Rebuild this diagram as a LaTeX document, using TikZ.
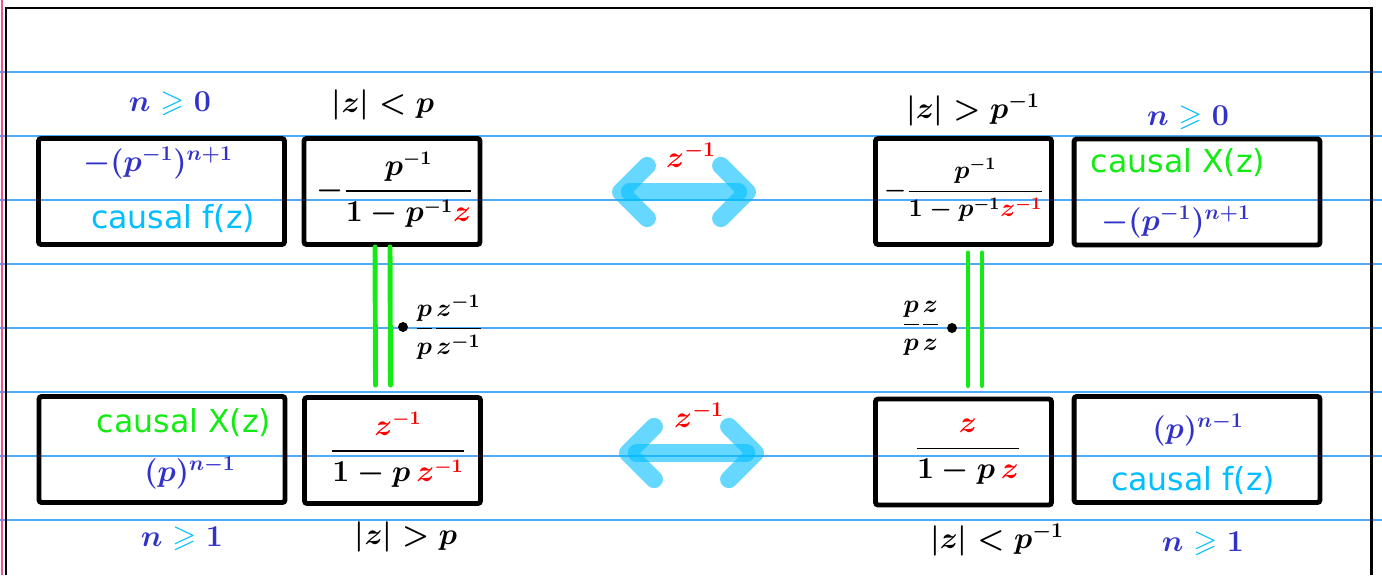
\documentclass[tikz,border=0pt]{standalone}
\usepackage{amsmath,amssymb}
\usepackage{fontspec}
\setsansfont{DejaVu Sans}
\usetikzlibrary{positioning,arrows.meta,calc}
\definecolor{ruleblue}{RGB}{80,170,250}
\definecolor{inkblue}{RGB}{50,50,200}
\definecolor{inkcyan}{RGB}{0,190,255}
\definecolor{inkgreen}{RGB}{20,235,20}
\definecolor{inkred}{RGB}{255,0,0}
\definecolor{marginpink}{RGB}{240,80,150}
\newcommand{\hgeq}{\mathrel{\textcolor{inkcyan}{\geqslant}}}
\newcommand{\rz}{{\color{inkred}z}}
\newcommand{\rzi}{{\color{inkred}z^{-1}}}
\tikzset{
  ruled/.style={ruleblue,line width=0.8pt},
  sheet/.style={line width=1.7pt},
  tbox/.style={draw,line width=2.8pt,rounded corners=1.5pt,
    minimum height=2.12cm,inner sep=0pt},
  narrowbox/.style={tbox,minimum width=3.52cm},
  widebox/.style={tbox,minimum width=4.92cm},
  hand/.style={font=\fontsize{17.5}{20}\selectfont\boldmath,inner sep=1pt},
  fracbox/.style={font=\fontsize{16}{19}\selectfont\boldmath,inner sep=1pt},
  captxt/.style={font=\sffamily\fontsize{18}{22}\selectfont,inner sep=1pt},
  eqbar/.style={inkgreen,line width=2.8pt,line cap=round},
  swaparrow/.style={inkcyan,opacity=.6,line width=10pt,line cap=round,
    {Straight Barb[round,length=15pt,width=30pt]}-{Straight Barb[round,length=15pt,width=30pt]}},
  mulpt/.style={circle,fill,inner sep=2pt},
  smallfrac/.style={font=\fontsize{15}{18}\selectfont\boldmath,inner sep=0.5pt},
}
\begin{document}
\begin{tikzpicture}[x=0.02cm,y=-0.02cm]
  \useasboundingbox (0,0) rectangle (1382,575);
  \foreach \yy in {72,136,...,520}
    \draw[ruled] (0,\yy) -- (1382,\yy);
  \draw[marginpink,line width=1pt] (2,0) -- (2,575);
  \draw[sheet] (6,575) -- (6,8) -- (1371,8) -- (1371,575);

  % boxes
  \node[widebox] (bA) at (161.5,191.5) {};
  \node[narrowbox] (bB) at (392,191.5) {};
  \node[narrowbox] (bC) at (963.5,191.5) {};
  \node[widebox] (bD) at (1197,192) {};
  \node[widebox] (bE) at (162,449.5) {};
  \node[narrowbox] (bF) at (392.5,450.5) {};
  \node[narrowbox] (bG) at (963.5,452) {};
  \node[widebox] (bH) at (1197,449.5) {};

  % box contents
  \node[hand,inkblue] (sA) at (158,163) {$-(p^{-1})^{n+1}$};
  \node[captxt,inkcyan] (cA) at (173,219) {causal f(z)};
  \node[fracbox] (fB) at (395,190) {$-\dfrac{p^{-1}}{1-p^{-1}\rz}$};
  \node[fracbox,font=\fontsize{14.5}{17}\selectfont\boldmath] (fC) at (964,190)
    {$-\dfrac{p^{-1}}{1-p^{-1}\rzi}$};
  \node[captxt,inkgreen] (cD) at (1178,163) {causal X(z)};
  \node[hand,inkblue] (sD) at (1176,222) {$-(p^{-1})^{n+1}$};
  \node[captxt,inkgreen] (cE) at (184,423) {causal X(z)};
  \node[hand,inkblue] (sE) at (190,473) {$(p)^{n-1}$};
  \node[fracbox] (fF) at (398,450) {$\dfrac{\rzi}{1-p\,\rzi}$};
  \node[fracbox] (fG) at (968,452) {$\dfrac{\rz}{1-p\,\rz}$};
  \node[hand,inkblue] (sH) at (1198,430) {$(p)^{n-1}$};
  \node[captxt,inkcyan] (cH) at (1193,481) {causal f(z)};

  % conditions
  \node[hand,inkblue] (nA) at (170,104) {$n\hgeq 0$};
  \node[hand] (rB) at (383,105) {$|z|<p$};
  \node[hand] (rC) at (973,110) {$|z|>p^{-1}$};
  \node[hand,inkblue] (nD) at (1188,118) {$n\hgeq 0$};
  \node[hand,inkblue] (nE) at (182,539) {$n\hgeq 1$};
  \node[hand] (rF) at (406,537) {$|z|>p$};
  \node[hand] (rG) at (997,540) {$|z|<p^{-1}$};
  \node[hand,inkblue] (nH) at (1203,544) {$n\hgeq 1$};

  % equal bars
  \draw[eqbar] ([xshift=-0.34cm]bB.south) -- ([xshift=-0.34cm,yshift=0.2cm]bF.north);
  \draw[eqbar] ([xshift=-0.04cm]bB.south) -- ([xshift=-0.04cm,yshift=0.2cm]bF.north);
  \draw[eqbar] ([xshift=0.09cm,yshift=-0.12cm]bC.south) -- ([xshift=0.09cm,yshift=0.22cm]bG.north);
  \draw[eqbar] ([xshift=0.37cm,yshift=-0.12cm]bC.south) -- ([xshift=0.37cm,yshift=0.22cm]bG.north);

  \node[mulpt] (mL) at (403,327) {};
  \node[smallfrac,right=3pt of mL] (qL) {$\dfrac{p}{p}\dfrac{z^{-1}}{z^{-1}}$};
  \node[mulpt] (mR) at (952,328) {};
  \node[smallfrac,left=3pt of mR] (qR) {$\dfrac{p}{p}\dfrac{z}{z}$};

  % shift arrows
  \coordinate (tL) at (612,192);
  \coordinate (tR) at (756,192);
  \coordinate (uL) at (619,453);
  \coordinate (uR) at (764,453);
  \draw[swaparrow] (tL) -- (tR);
  \draw[swaparrow] (uL) -- (uR);
  \node[hand,inkred] (kT) at (691,155) {$z^{-1}$};
  \node[hand,inkred] (kU) at (699,415) {$z^{-1}$};
\end{tikzpicture}
\end{document}
